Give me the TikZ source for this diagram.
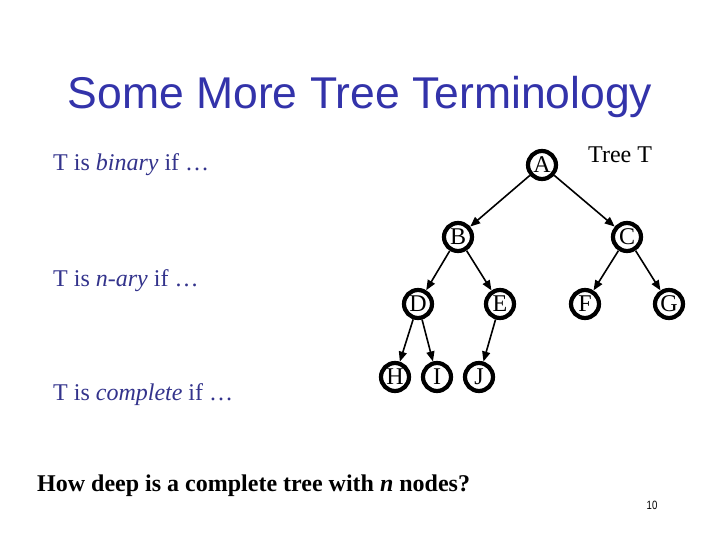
\documentclass[tikz,border=0pt]{standalone}
\usepackage{fontspec}
\setmainfont{Liberation Serif}
\newfontfamily\titlefont{Liberation Sans}
\usetikzlibrary{arrows.meta}
\definecolor{slideblue}{RGB}{51,51,170}
\definecolor{textblue}{RGB}{51,51,140}
\tikzset{
  tnode/.style={circle, draw=black, line width=4.2pt, minimum size=28pt, inner sep=0pt,
    font=\fontsize{24}{24}\selectfont},
  edge/.style={line width=1.6pt, -{Triangle[length=10pt,width=8pt]}},
  lefttext/.style={anchor=base west, inner sep=0pt, text=textblue, font=\fontsize{24}{28}\selectfont}
}
\begin{document}
\begin{tikzpicture}[x=1pt,y=-1pt]
\useasboundingbox (0,0) rectangle (720,540);
\fill[white] (0,0) rectangle (720,540);
% title
\node[anchor=base, inner sep=0pt, text=slideblue, font=\titlefont\fontsize{44.5}{50}\selectfont] (title) at (360,109) {Some More Tree Terminology};
% left texts
\node[lefttext] (bin) at (53,171) {T is \textit{binary} if \dots};
\node[lefttext] (nary) at (53,286) {T is \textit{n-ary} if \dots};
\node[lefttext] (comp) at (53,400) {T is \textit{complete} if \dots};
% tree
\node[tnode] (A) at (542,165) {A};
\node[tnode] (B) at (458,237) {B};
\node[tnode] (C) at (627,237) {C};
\node[tnode] (D) at (418,304) {D};
\node[tnode] (E) at (500,304) {E};
\node[tnode] (F) at (585,304) {F};
\node[tnode] (G) at (669,304) {G};
\node[tnode] (H) at (395,377) {H};
\node[tnode] (I) at (437,377) {I};
\node[tnode] (J) at (479,377) {J};
\node[anchor=base west, inner sep=0pt, font=\fontsize{24}{28}\selectfont] (treet) at (588,163) {Tree T};
\draw[edge] (A) -- (B);
\draw[edge] (A) -- (C);
\draw[edge] (B) -- (D);
\draw[edge] (B) -- (E);
\draw[edge] (C) -- (F);
\draw[edge] (C) -- (G);
\draw[edge] (D) -- (H);
\draw[edge] (D) -- (I);
\draw[edge] (E) -- (J);
% question
\node[anchor=base west, inner sep=0pt, font=\bfseries\fontsize{24}{28}\selectfont] (q) at (37,491) {How deep is a complete tree with \textit{n} nodes?};
% page number
\node[anchor=base, inner sep=0pt, font=\titlefont\fontsize{12}{14}\selectfont] (pg) at (652,509) {\scalebox{0.8}[1]{10}};
\end{tikzpicture}
\end{document}
